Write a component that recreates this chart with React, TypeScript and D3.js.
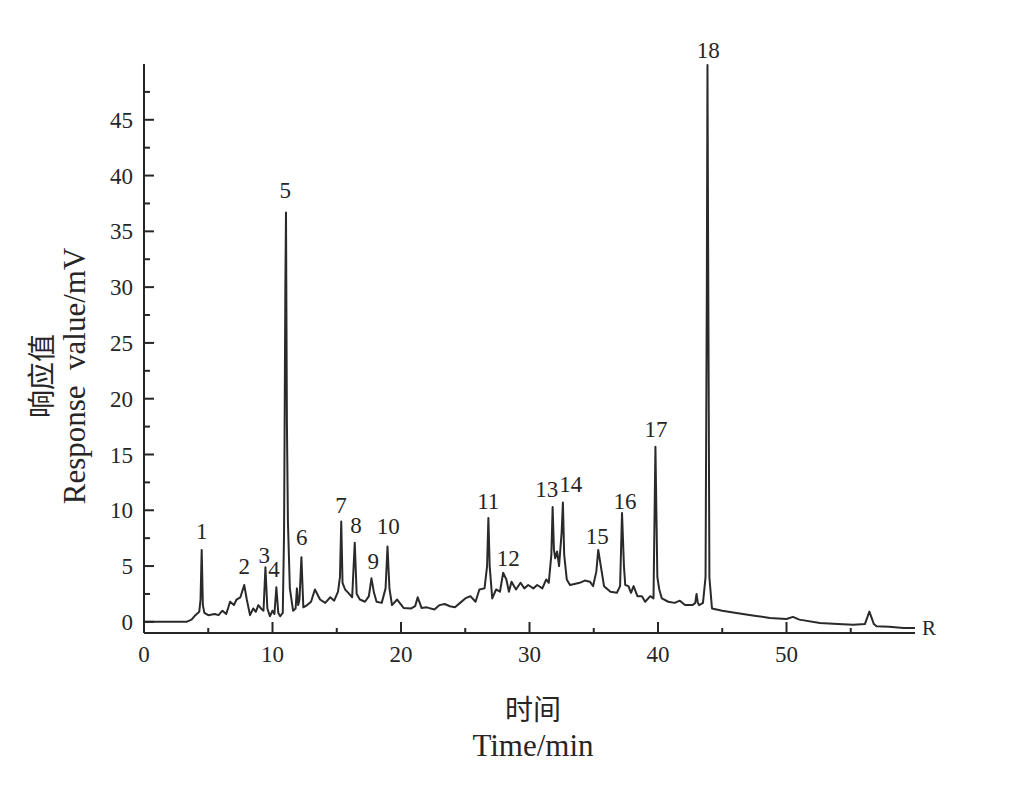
import React from "react";
import * as d3 from "d3";

// Chromatogram trace: [time/min, response/mV]
const trace: [number, number][] = [
  [0, 0], [3.3, 0], [3.7, 0.2], [4.0, 0.6], [4.3, 0.9], [4.4, 2.0], [4.49, 6.45], [4.58, 1.5], [4.7, 0.8],
  [5.0, 0.6], [5.5, 0.7], [5.8, 0.6], [6.1, 1.0], [6.4, 0.7], [6.7, 1.8], [7.0, 1.5], [7.2, 2.0], [7.5, 2.2],
  [7.8, 3.3], [8.0, 2.0], [8.25, 0.6], [8.5, 1.2], [8.7, 0.9], [8.9, 1.5], [9.1, 1.2], [9.3, 1.0], [9.45, 4.9],
  [9.6, 1.2], [9.8, 0.5], [10.0, 1.0], [10.15, 0.7], [10.3, 3.1], [10.45, 0.8], [10.6, 0.5], [10.8, 0.8],
  [10.9, 8], [11.0, 30], [11.05, 36.7], [11.12, 18], [11.2, 9], [11.35, 3.0], [11.6, 1.0], [11.8, 1.2],
  [11.9, 3.0], [12.0, 1.5], [12.1, 2.0], [12.25, 5.8], [12.4, 1.3], [12.7, 1.5], [13.0, 1.8], [13.3, 2.9],
  [13.7, 2.0], [14.1, 1.7], [14.5, 2.2], [14.8, 1.9], [15.1, 2.7], [15.25, 4], [15.35, 9.0], [15.45, 3.5],
  [15.65, 2.9], [15.9, 2.6], [16.2, 2.2], [16.4, 7.1], [16.55, 2.5], [16.8, 2.0], [17.2, 1.8], [17.5, 2.3],
  [17.7, 3.9], [17.9, 2.6], [18.1, 1.8], [18.5, 1.7], [18.8, 3.0], [18.95, 6.75], [19.1, 3.0], [19.3, 1.5],
  [19.7, 2.0], [20.2, 1.25], [20.8, 1.2], [21.1, 1.4], [21.3, 2.2], [21.6, 1.25], [22.0, 1.3], [22.6, 1.1],
  [23.0, 1.5], [23.4, 1.6], [23.8, 1.4], [24.2, 1.3], [24.6, 1.7], [25.0, 2.1], [25.4, 2.3], [25.8, 1.8],
  [26.1, 2.9], [26.5, 3.0], [26.7, 5], [26.8, 9.3], [26.9, 5], [27.1, 2.1], [27.4, 2.9], [27.7, 2.7],
  [27.95, 4.4], [28.2, 3.8], [28.4, 2.7], [28.6, 3.6], [28.95, 2.9], [29.3, 3.5], [29.6, 3.0], [29.9, 3.3],
  [30.3, 3.0], [30.6, 3.3], [31.0, 3.0], [31.3, 3.8], [31.5, 3.5], [31.7, 6], [31.8, 10.3], [31.9, 6.5],
  [32.0, 5.7], [32.15, 6.3], [32.3, 5.0], [32.5, 8], [32.6, 10.7], [32.7, 6], [32.9, 3.8], [33.15, 3.3],
  [33.5, 3.4], [33.9, 3.5], [34.3, 3.7], [34.7, 3.6], [34.95, 3.2], [35.2, 4.5], [35.35, 6.45], [35.55, 5.0],
  [35.8, 3.2], [36.3, 2.7], [36.8, 2.6], [37.05, 3.2], [37.2, 9.75], [37.35, 5], [37.45, 3.3], [37.7, 3.2],
  [37.9, 2.6], [38.1, 3.2], [38.4, 2.3], [38.75, 2.3], [39.0, 1.8], [39.4, 2.3], [39.65, 2.1], [39.8, 15.7],
  [39.95, 4], [40.1, 2.9], [40.3, 2.1], [40.8, 1.8], [41.3, 1.7], [41.7, 1.9], [42.1, 1.5], [42.7, 1.5],
  [42.9, 1.7], [43.0, 2.5], [43.1, 1.7], [43.2, 1.5], [43.5, 1.7], [43.7, 4], [43.8, 30], [43.85, 49.9],
  [43.92, 28], [44.0, 4], [44.2, 1.2], [45.0, 1.0], [46.1, 0.8], [47.5, 0.55], [48.7, 0.35], [50.0, 0.25],
  [50.5, 0.45], [51.0, 0.2], [52.6, -0.1], [54.0, -0.2], [55.2, -0.27], [56.1, -0.2], [56.45, 0.92],
  [56.8, -0.2], [57.0, -0.4], [58.0, -0.45], [59.1, -0.55], [60, -0.55],
];

// Peak number labels: [label, time, response]
const peakLabels: [string, number, number][] = [
  ["1", 4.49, 7.41], ["2", 7.8, 4.3], ["3", 9.36, 5.31], ["4", 10.12, 4.06], ["5", 10.99, 37.96],
  ["6", 12.27, 6.9], ["7", 15.33, 9.8], ["8", 16.5, 8.0], ["9", 17.85, 4.71], ["10", 19.01, 7.89],
  ["11", 26.79, 10.1], ["12", 28.35, 5.04], ["13", 31.34, 11.17], ["14", 33.21, 11.68], ["15", 35.27, 6.99],
  ["16", 37.43, 10.1], ["17", 39.84, 16.55], ["18", 43.91, 50.51],
];

const xMajorTicks = [0, 10, 20, 30, 40, 50];
const xMinorTicks = [5, 15, 25, 35, 45, 55];
const yMajorTicks = [0, 5, 10, 15, 20, 25, 30, 35, 40, 45];
const yMinorTicks = [2.5, 7.5, 12.5, 17.5, 22.5, 27.5, 32.5, 37.5, 42.5, 47.5];

const W = 1013;
const H = 792;
const serif = "'Times New Roman', 'Liberation Serif', Times, serif";
const cjk = "'Noto Sans CJK SC', sans-serif";
const ink = "#262626";

export default function App() {
  const x = d3.scaleLinear().domain([0, 60]).range([144, 915]);
  const y = d3.scaleLinear().domain([-1, 50]).range([633, 64]);
  const line = d3
    .line<[number, number]>()
    .x((d) => x(d[0]))
    .y((d) => y(d[1]));

  const x0 = x(0);
  const yBase = y(-1);

  return (
    <svg
      width={W}
      height={H}
      style={{ position: "absolute", left: 0, top: 0, background: "#fff" }}
    >
      {/* trace */}
      <path d={line(trace) || ""} fill="none" stroke="#2a2a2a" strokeWidth={2} strokeLinejoin="round" />

      {/* axes */}
      <line x1={x0} x2={x0} y1={y(50)} y2={yBase} stroke={ink} strokeWidth={2} />
      <line x1={x0} x2={x(60)} y1={yBase} y2={yBase} stroke={ink} strokeWidth={2} />

      {yMajorTicks.map((v) => (
        <g key={"ym" + v}>
          <line x1={x0} x2={x0 + 10} y1={y(v)} y2={y(v)} stroke={ink} strokeWidth={2} />
          <text x={x0 - 11} y={y(v)} dy="0.35em" textAnchor="end" fontFamily={serif} fontSize={23} fill={ink}>
            {v}
          </text>
        </g>
      ))}
      {yMinorTicks.map((v) => (
        <line key={"yn" + v} x1={x0} x2={x0 + 6} y1={y(v)} y2={y(v)} stroke={ink} strokeWidth={2} />
      ))}
      {xMajorTicks.map((v) => (
        <g key={"xm" + v}>
          <line x1={x(v)} x2={x(v)} y1={yBase} y2={yBase - 11} stroke={ink} strokeWidth={2} />
          <text x={x(v)} y={yBase + 29} textAnchor="middle" fontFamily={serif} fontSize={23} fill={ink}>
            {v}
          </text>
        </g>
      ))}
      {xMinorTicks.map((v) => (
        <line key={"xn" + v} x1={x(v)} x2={x(v)} y1={yBase} y2={yBase - 5} stroke={ink} strokeWidth={2} />
      ))}
      <text x={x(60) + 7} y={yBase + 2} fontFamily={serif} fontSize={21} fill={ink}>
        R
      </text>

      {/* peak labels */}
      {peakLabels.map(([lab, t, v]) => (
        <text key={"p" + lab} x={x(t)} y={y(v)} textAnchor="middle" fontFamily={serif} fontSize={23} fill={ink}>
          {lab}
        </text>
      ))}

      {/* axis titles */}
      <text x={533} y={720} textAnchor="middle" fontFamily={cjk} fontSize={28} fill={ink}>
        时间
      </text>
      <text x={533} y={756} textAnchor="middle" fontFamily={serif} fontSize={31} fill={ink}>
        Time/min
      </text>
      <text
        transform="translate(52,376) rotate(-90)"
        textAnchor="middle"
        fontFamily={cjk}
        fontSize={28}
        fill={ink}
      >
        响应值
      </text>
      <text
        transform="translate(85,376) rotate(-90)"
        textAnchor="middle"
        fontFamily={serif}
        fontSize={31}
        fill={ink}
        style={{ whiteSpace: "pre" }}
      >
        {"Response  value/mV"}
      </text>
    </svg>
  );
}
